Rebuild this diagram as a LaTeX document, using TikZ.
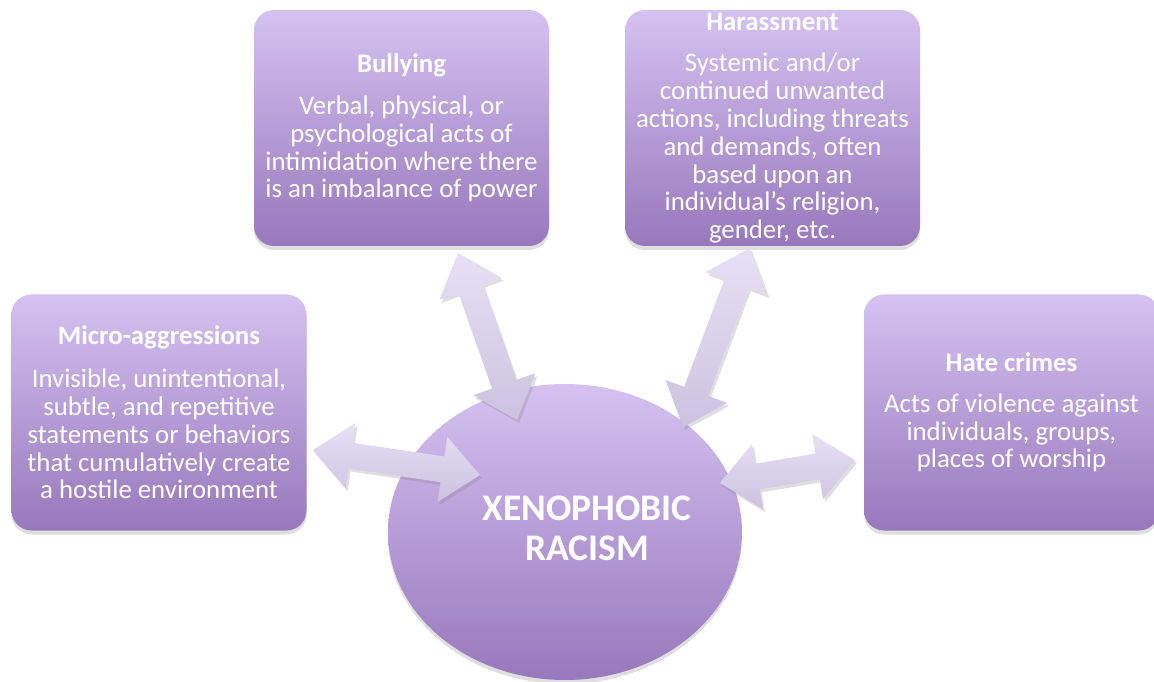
\documentclass[tikz,border=0pt]{standalone}
\usepackage{fontspec}
\setmainfont{Carlito}
\usetikzlibrary{calc,shadows,shapes.geometric}
\definecolor{boxtop}{RGB}{213,194,241}
\definecolor{boxbot}{RGB}{152,120,188}
\definecolor{arrtop}{RGB}{231,224,245}
\definecolor{arrbot}{RGB}{204,194,224}
\tikzset{
  topicbox/.style={rectangle, rounded corners=20pt, minimum width=295pt, minimum height=236pt,
    top color=boxtop, bottom color=boxbot, text=white, align=center,
    font=\fontsize{26.8}{27.8}\selectfont, inner sep=0pt,
    drop shadow={shadow xshift=0pt, shadow yshift=-4pt, opacity=0.25}},
  hubshape/.style={ellipse, minimum width=354pt, minimum height=296pt, inner sep=0pt,
    top color=boxtop, bottom color=boxbot,
    drop shadow={shadow xshift=0pt, shadow yshift=-4pt, opacity=0.25}},
  hublabel/.style={text=white, align=center, font=\bfseries\fontsize{37.5}{40}\selectfont},
  blockarrow/.style={top color=arrtop, bottom color=arrbot,
    drop shadow={shadow xshift=2pt, shadow yshift=-3pt, opacity=0.25}}
}
\newcommand{\dblarrowpath}[2]{%
  \path[blockarrow] (#1)
    -- ($(#1)!38pt!(#2)!33pt!90:(#2)$)
    -- ($(#1)!38pt!(#2)!13pt!90:(#2)$)
    -- ($(#2)!38pt!(#1)!13pt!-90:(#1)$)
    -- ($(#2)!38pt!(#1)!33pt!-90:(#1)$)
    -- (#2)
    -- ($(#2)!38pt!(#1)!33pt!90:(#1)$)
    -- ($(#2)!38pt!(#1)!13pt!90:(#1)$)
    -- ($(#1)!38pt!(#2)!13pt!-90:(#2)$)
    -- ($(#1)!38pt!(#2)!33pt!-90:(#2)$)
    -- cycle;}
\begin{document}
\begin{tikzpicture}[x=1pt,y=1pt]
\useasboundingbox (0,0) rectangle (1154,681);

\node[topicbox] (micro) at (159,268.5)
  {{\bfseries Micro-aggressions}\\[15pt]
   Invisible, unintentional,\\ subtle, and repetitive\\ statements or behaviors\\
   that cumulatively create\\ a hostile environment};
\node[topicbox] (bully) at (401.5,553)
  {{\bfseries Bullying}\\[14pt]
   Verbal, physical, or\\ psychological acts of\\ intimidation where there\\
   is an imbalance of power};
\node[topicbox] (harass) at (772.5,553)
  {{\bfseries Harassment}\\[14pt]
   Systemic and/or\\ continued unwanted\\ actions, including threats\\
   and demands, often\\ based upon an\\ individual's religion,\\ gender, etc.};
\node[topicbox] (hate) at (1011.5,268.5)
  {{\bfseries Hate crimes}\\[13pt]
   Acts of violence against\\ individuals, groups,\\ places of worship};

\node[hubshape] (hub) at (565,149) {};
\node[hublabel] (hubtext) at (587,153) {XENOPHOBIC\\RACISM};

\coordinate (la) at (313,231);
\coordinate (lb) at (480,206);
\coordinate (ba) at (458,428);
\coordinate (bb) at (517,261);
\coordinate (ha) at (750,433);
\coordinate (hb) at (683,254);
\coordinate (ra) at (720,198);
\coordinate (rb) at (855,221);

\dblarrowpath{la}{lb}
\dblarrowpath{ba}{bb}
\dblarrowpath{ha}{hb}
\dblarrowpath{ra}{rb}
\end{tikzpicture}
\end{document}
